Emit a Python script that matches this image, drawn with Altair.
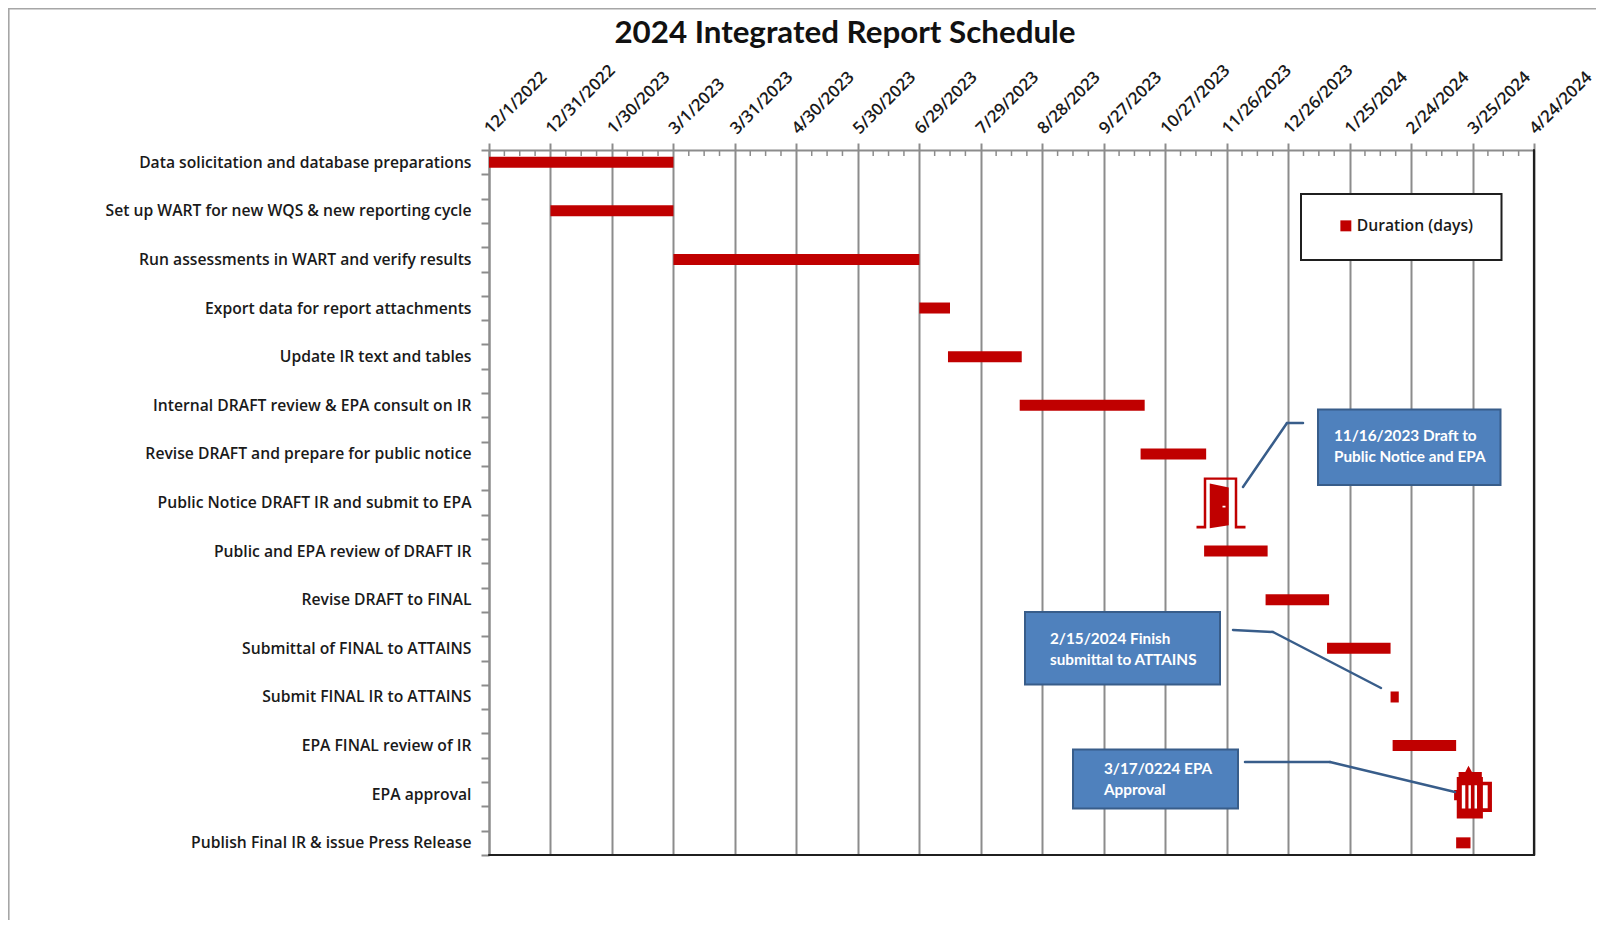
import altair as alt
import pandas as pd

FONT = "Lato"
AXIS_FONT = "Open Sans"
RED = "#C00000"
GRID = "#8C8C8C"
BLUE = "#4F81BD"
BLUE_DARK = "#385D8A"

tasks = [
    "Data solicitation and database preparations",
    "Set up WART for new WQS & new reporting cycle",
    "Run assessments in WART and verify results",
    "Export data for report attachments",
    "Update IR text and tables",
    "Internal DRAFT review & EPA consult on IR",
    "Revise DRAFT and prepare for public notice",
    "Public Notice DRAFT IR and submit to EPA",
    "Public and EPA review of DRAFT IR",
    "Revise DRAFT to FINAL",
    "Submittal of  FINAL to ATTAINS",
    "Submit FINAL IR to ATTAINS",
    "EPA FINAL review of IR",
    "EPA approval",
    "Publish Final IR & issue Press Release",
]
starts = ["2022-12-01", "2022-12-31", "2023-03-01", "2023-06-29", "2023-07-13", "2023-08-17",
          "2023-10-15", None, "2023-11-15", "2023-12-15", "2024-01-14", "2024-02-14",
          "2024-02-15", None, "2024-03-17"]
ends = ["2023-03-01", "2023-03-01", "2023-06-29", "2023-07-14", "2023-08-18", "2023-10-17",
        "2023-11-16", None, "2023-12-16", "2024-01-15", "2024-02-14", "2024-02-18",
        "2024-03-17", None, "2024-03-24"]
tick_labels = ["12/1/2022", "12/31/2022", "1/30/2023", "3/1/2023", "3/31/2023", "4/30/2023",
               "5/30/2023", "6/29/2023", "7/29/2023", "8/28/2023", "9/27/2023", "10/27/2023",
               "11/26/2023", "12/26/2023", "1/25/2024", "2/24/2024", "3/25/2024", "4/24/2024"]

tick_dates = pd.to_datetime(tick_labels, format="%m/%d/%Y")
tick_iso = [d.strftime("%Y-%m-%dT00:00:00") for d in tick_dates]

# every second row of the axis is an empty spacer row, as in the reference
row_domain = []
for i, t in enumerate(tasks):
    row_domain.append(t)
    if i < len(tasks) - 1:
        row_domain.append(" " * (i + 1))

df = pd.DataFrame({"task": tasks, "start": starts, "end": ends})
df = df.dropna()
df["start"] = pd.to_datetime(df["start"]).dt.strftime("%Y-%m-%dT00:00:00")
df["end"] = pd.to_datetime(df["end"]).dt.strftime("%Y-%m-%dT00:00:00")
df["series"] = "Duration (days)"

minor = []
for d in tick_dates[:-1]:
    for k in (1, 2, 3):
        minor.append((d + pd.Timedelta(hours=180 * k)).strftime("%Y-%m-%dT%H:00:00"))
minor_df = pd.DataFrame({"d": minor})

x_scale = alt.Scale(domain=[tick_iso[0], tick_iso[-1]], nice=False)
y_scale = alt.Scale(domain=row_domain, paddingInner=0, paddingOuter=0)

OX, OY = 489, 150  # page position of the plot area
one = pd.DataFrame({"k": [0]})


def seg(x1, y1, x2, y2, color, w):
    return alt.Chart(one).mark_rule(color=color, strokeWidth=w, strokeCap="round").encode(
        x=alt.value(x1 - OX), y=alt.value(y1 - OY),
        x2=alt.value(x2 - OX), y2=alt.value(y2 - OY))


def box(x1, y1, x2, y2, fill, stroke, w):
    return alt.Chart(one).mark_rect(fill=fill, stroke=stroke, strokeWidth=w).encode(
        x=alt.value(x1 - OX), y=alt.value(y1 - OY),
        x2=alt.value(x2 - OX), y2=alt.value(y2 - OY))


def label(x, y, text):
    return alt.Chart(one).mark_text(
        text=text, color="white", font=FONT, fontSize=15.3, fontWeight="bold",
        align="left", baseline="middle",
    ).encode(x=alt.value(x - OX), y=alt.value(y - OY))


bars = alt.Chart(df).mark_bar(size=11, cornerRadius=0).encode(
    x=alt.X("start:T", scale=x_scale, axis=alt.Axis(
        orient="top", values=tick_iso, format="%-m/%-d/%Y", title=None,
        labelAngle=-45, labelAlign="left", labelBaseline="middle", labelPadding=12, labelOffset=-2,
        labelFont=AXIS_FONT, labelFontSize=16.8, labelFontWeight=600, labelColor="#1a1a1a",
        labelOverlap=False, labelFlush=False,
        grid=True, gridColor=GRID, gridWidth=2,
        tickColor=GRID, tickWidth=2, tickSize=7,
        domainColor=GRID, domainWidth=2)),
    x2="end:T",
    y=alt.Y("task:N", scale=y_scale, sort=row_domain, axis=alt.Axis(
        title=None, tickBand="extent", grid=False,
        labelExpr="slice(datum.label, 0, 1) === ' ' ? '' : datum.label",
        labelFont=AXIS_FONT, labelFontSize=15.7, labelFontWeight=600, labelColor="#1a1a1a",
        labelPadding=10, labelLimit=0,
        tickColor=GRID, tickWidth=2, tickSize=8,
        domainColor=GRID, domainWidth=2)),
    color=alt.Color("series:N", scale=alt.Scale(domain=["Duration (days)"], range=[RED]),
                    legend=alt.Legend(orient="none", legendX=1338 - OX, legendY=68, title=None,
                                      symbolType="square", symbolSize=120, symbolStrokeWidth=0,
                                      labelFont=AXIS_FONT, labelFontSize=15.7, labelFontWeight=600,
                                      labelColor="#1a1a1a", padding=0, labelOffset=3)),
)

minor_ticks = alt.Chart(minor_df).mark_rule(color=GRID, strokeWidth=1.5).encode(
    x=alt.X("d:T", scale=x_scale), y=alt.value(0), y2=alt.value(6))

# door icon: 11/16/2023 milestone
door_path = ("M-0.96,0.93 L-0.67,0.93 L-0.67,-1 L0.67,-1 L0.67,0.93 L1,0.93 L1,1.04 L0.57,1.04 "
             "L0.57,-0.91 L-0.57,-0.91 L-0.57,1.04 L-0.96,1.04 Z "
             "M-0.43,-0.76 L0.33,-0.6 L0.33,0.91 L-0.43,1.03 Z "
             "M0.08,0.13 L0.08,0.2 L0.2,0.2 L0.2,0.13 Z")
# mug icon: EPA approval milestone
mug_path = ("M-0.56,-0.76 L-0.31,-0.76 L-0.19,-0.99 L-0.06,-0.76 L0.31,-0.76 L0.31,-0.57 L0.35,-0.57 "
            "L0.35,-0.39 L0.69,-0.39 L0.69,0.74 L0.35,0.74 L0.35,0.99 L-0.63,0.99 "
            "L-0.63,0.3 L-0.73,0.3 L-0.73,-0.08 L-0.63,-0.08 L-0.63,-0.57 L-0.56,-0.57 Z "
            "M-0.44,-0.26 L-0.44,0.61 L-0.31,0.61 L-0.31,-0.26 Z "
            "M-0.19,-0.26 L-0.19,0.61 L-0.1,0.61 L-0.1,-0.26 Z "
            "M0.03,-0.26 L0.03,0.61 L0.13,0.61 L0.13,-0.26 Z "
            "M0.35,-0.26 L0.35,0.6 L0.53,0.6 L0.53,-0.26 Z")
door_df = pd.DataFrame({"d": ["2023-11-23T00:00:00"], "task": [tasks[7]]})
mug_df = pd.DataFrame({"d": ["2024-03-25T12:00:00"], "task": [tasks[13]]})
door = alt.Chart(door_df).mark_point(shape=door_path, size=2500, filled=True, opacity=1, color=RED, strokeWidth=0).encode(
    x=alt.X("d:T", scale=x_scale), y=alt.Y("task:N", scale=y_scale))
mug = alt.Chart(mug_df).mark_point(shape=mug_path, size=2844, filled=True, opacity=1, color=RED, strokeWidth=0, yOffset=-2).encode(
    x=alt.X("d:T", scale=x_scale), y=alt.Y("task:N", scale=y_scale))

layers = [
    # surrounding page frame
    seg(8.6, 8.6, 1620, 8.6, "#A6A6A6", 2),
    seg(8.6, 8.6, 8.6, 940, "#A6A6A6", 2),
    bars,
    minor_ticks,
    # plot's right and bottom edges
    seg(1534, 150, 1534, 855, "#1F1F1F", 2.2),
    seg(489, 855, 1534, 855, "#1F1F1F", 2.2),
    # legend frame
    box(1301, 194, 1501.5, 260, "white", "#1F1F1F", 2),
    door, mug,
    # callouts
    box(1318, 409.5, 1500.5, 485, BLUE, BLUE_DARK, 2),
    seg(1243, 487, 1287, 423, BLUE_DARK, 2.5),
    seg(1287, 423, 1303, 423, BLUE_DARK, 2.5),
    label(1334, 435.5, "11/16/2023 Draft to"),
    label(1334, 457, "Public Notice and EPA"),
    box(1025, 612, 1220, 684.5, BLUE, BLUE_DARK, 2),
    seg(1233, 630, 1273, 632, BLUE_DARK, 2.5),
    seg(1273, 632, 1381, 688, BLUE_DARK, 2.5),
    label(1050, 639, "2/15/2024 Finish"),
    label(1050, 660, "submittal to ATTAINS"),
    box(1073, 749.5, 1238, 808.5, BLUE, BLUE_DARK, 2),
    seg(1245, 762, 1330, 762, BLUE_DARK, 2.5),
    seg(1330, 762, 1455, 792, BLUE_DARK, 2.5),
    label(1104, 769, "3/17/0224 EPA"),
    label(1104, 790, "Approval"),
]

chart = alt.layer(*layers).resolve_scale(x="shared", y="shared").properties(
    width=1045, height=705,
    title=alt.TitleParams("2024 Integrated Report Schedule", font=FONT, fontSize=31.3, fontWeight="bold",
                          color="#111111", anchor="middle", frame="group", dx=-166.5, dy=50, offset=8),
    autosize=alt.AutoSizeParams(type="none"),
    padding={"left": 481, "top": 142, "right": 62, "bottom": 65},
    background="white",
).configure_view(stroke=None)

chart.save("out.html", embed_options={"renderer": "svg", "actions": False})
